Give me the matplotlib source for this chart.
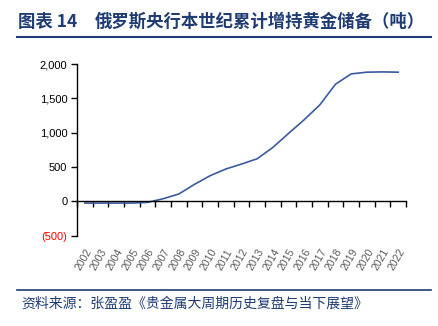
import matplotlib
matplotlib.use("Agg")
import matplotlib.pyplot as plt
from matplotlib.ticker import FixedLocator, FuncFormatter

plt.rcParams["font.family"] = ["Liberation Sans", "Noto Sans CJK SC", "DejaVu Sans"]

# data (tonnes, cumulative since 2002)
years = [str(y) for y in range(2002, 2023)]
holdings = [-25, -25, -25, -25, -15, 38, 107, 248, 374, 471, 543, 620,
            785, 989, 1188, 1405, 1706, 1856, 1881, 1885, 1881]
y_ticks = [-500, 0, 500, 1000, 1500, 2000]

title_num = "图表 14"
title = "俄罗斯央行本世纪累计增持黄金储备（吨）"
source = "资料来源：张盈盈《贵金属大周期历史复盘与当下展望》"

navy = "#1F3C73"
line_blue = "#3A5BA0"
cjk = ["Noto Sans CJK SC", "DejaVu Sans"]

W, H = 439, 326
fig = plt.figure(figsize=(W / 100, H / 100), dpi=100)

ax = fig.add_axes([77 / W, 1 - 235.7 / H, (406 - 77) / W, (235.7 - 64) / H])
x = list(range(len(years)))
ax.plot(x, holdings, color=line_blue, lw=1.2)

ax.set_xlim(-0.5, len(years) - 0.5)
ax.set_ylim(-500, 2000)

for s in ["top", "right"]:
    ax.spines[s].set_visible(False)
ax.spines["bottom"].set_position(("data", 0))
ax.spines["left"].set_linewidth(1.0)
ax.spines["bottom"].set_linewidth(1.0)

# category boundary ticks on the zero line, labels at category centres
ax.xaxis.set_major_locator(FixedLocator([i - 0.5 for i in range(len(years) + 1)]))
ax.xaxis.set_major_formatter(FuncFormatter(lambda v, p: ""))
ax.tick_params(axis="x", which="major", direction="out", length=4, width=1)
ax.set_xticks(x, minor=True)
ax.set_xticklabels(years, minor=True)
ax.tick_params(axis="x", which="minor", length=0, pad=33, labelsize=7.5,
               labelcolor="#595959")
for lab in ax.get_xticklabels(minor=True):
    lab.set_rotation(60)
    lab.set_ha("right")
    lab.set_rotation_mode("anchor")

ax.set_yticks(y_ticks)
ax.set_yticklabels([f"({abs(v):,})" if v < 0 else f"{v:,}" for v in y_ticks])
ax.tick_params(axis="y", direction="out", length=4, width=1, labelsize=8, pad=3)
for lab, v in zip(ax.get_yticklabels(), y_ticks):
    lab.set_color("red" if v < 0 else "black")

# title and source with rules
fig.text(18 / W, 1 - 22 / H, title_num, fontsize=12.5, fontweight="bold",
         color=navy, va="center", ha="left", family=cjk)
fig.text(95 / W, 1 - 22 / H, title, fontsize=12.5, fontweight="bold",
         color=navy, va="center", ha="left", family=cjk)
fig.add_artist(plt.Line2D([17 / W, 431 / W], [1 - 37 / H, 1 - 37 / H],
                          color=navy, lw=1.5))
fig.add_artist(plt.Line2D([17 / W, 431 / W], [1 - 290 / H, 1 - 290 / H],
                          color=navy, lw=1.2))
fig.text(21 / W, 1 - 304 / H, source, fontsize=10, color=navy, style="italic",
         va="center", ha="left", family=cjk)

fig.savefig("out.png", dpi=100, facecolor="white")
